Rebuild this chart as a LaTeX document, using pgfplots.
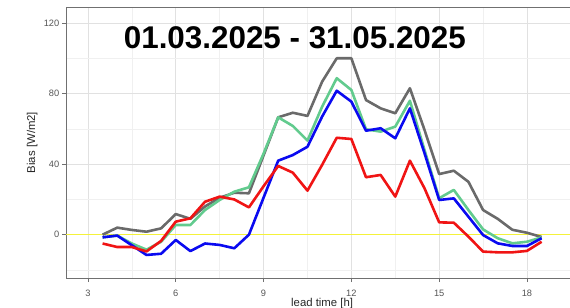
\documentclass[border=0pt]{standalone}
\usepackage{fontspec}
\setmainfont{Liberation Sans}
\usepackage{pgfplots}
\usepackage{pgfplotstable}
\pgfplotsset{compat=1.18}
\definecolor{cgray}{HTML}{6A6A6A}
\definecolor{cgreen}{HTML}{62CB8E}
\definecolor{cblue}{HTML}{0A0AF0}
\definecolor{cred}{HTML}{F01414}
\definecolor{cyel}{HTML}{F4F23A}
\definecolor{gridmaj}{HTML}{E1E1E1}
\definecolor{gridmin}{HTML}{F0F0F0}
\definecolor{axc}{HTML}{707070}
\definecolor{tlc}{HTML}{555555}
\pgfplotstableread{
t gray green blue red
3.5 0 -1.5 -1.5 -5
4 4 -0.5 -0.5 -7
4.5 2.7 -5 -6 -7
5 1.7 -8.5 -11.5 -9.5
5.5 3.6 -4 -10.8 -3.5
6 11.7 5.5 -3 7.4
6.5 9 5.5 -9.3 9.3
7 16 14 -5 18.7
7.5 21 19.7 -5.8 21.6
8 23.8 24.4 -7.7 20
8.5 23.5 26.9 0 15.5
9 45 46 21 27.5
9.5 66.6 66.6 42 39
10 69.2 61.7 45.2 35.2
10.5 67.4 53.4 49.9 25
11 86.8 72.6 67 39.6
11.5 100.1 88.8 81.7 55
12 100.1 82.1 75.5 54.3
12.5 76.4 59.8 59 32.6
13 71.7 58.5 60.4 33.9
13.5 68.9 61.3 54.7 21.6
14 83.1 76 71.7 42
14.5 59.4 48 46.2 26.3
15 34.4 20.7 19.7 7
15.5 36.3 25.4 20.6 6.8
16 30 14 10.2 -1.1
16.5 14 3 -0.2 -9.6
17 9 -2 -4.9 -10
17.5 2.8 -4.9 -6.4 -10
18 1.1 -4 -6.4 -9.2
18.5 -1.3 -1.5 -2 -4
}\data
\begin{document}
\begin{tikzpicture}
\begin{axis}[
  at={(0,0)}, anchor=south west,
  scale only axis, width=512.2bp, height=271bp,
  xmin=2.25, xmax=19.75, ymin=-24.57, ymax=129.2,
  xtick={3,6,...,18}, ytick={0,40,80,120},
  minor xtick={4.5,7.5,...,18}, minor ytick={-20,20,60,100},
  grid=both,
  major grid style={color=gridmaj, line width=0.8bp},
  minor grid style={color=gridmin, line width=0.6bp},
  tick align=outside, tick pos=left,
  major tick length=4bp, minor tick length=0pt,
  every tick/.style={color=axc, line width=0.7bp},
  axis line style={color=axc, line width=0.9bp},
  /pgf/number format/assume math mode=true,
  ticklabel style={font=\fontsize{9.3}{10}\selectfont, text=tlc},
  xticklabel style={anchor=base, yshift=-14.5bp},
  yticklabel style={anchor=east, inner sep=0pt, xshift=-2.5bp},
  xlabel={lead time [h]}, ylabel={Bias [W/m2]},
  xlabel style={at={(axis description cs:0.5,-0.1052)}, anchor=base, font=\fontsize{11.4}{13}\selectfont, text=black!85},
  ylabel style={at={(axis description cs:-0.0605,0.5)}, anchor=base, font=\fontsize{11.4}{13}\selectfont, text=black!85},
]
\addplot[cyel, line width=1.3bp] coordinates {(2.25,0) (19.75,0)};
\addplot[cgray, line width=2.6bp, line join=round] table[x=t, y=gray] {\data};
\addplot[cgreen, line width=2.6bp, line join=round] table[x=t, y=green] {\data};
\addplot[cblue, line width=2.6bp, line join=round] table[x=t, y=blue] {\data};
\addplot[cred, line width=2.6bp, line join=round] table[x=t, y=red] {\data};
\node[anchor=base, font=\bfseries\fontsize{31.5}{36}\selectfont] at (axis cs:10.07,105.8) {01.03.2025 - 31.05.2025};
\end{axis}
\pgfresetboundingbox
\path[use as bounding box] (-66bp,-30bp) rectangle (504bp,278bp);
\end{tikzpicture}
\end{document}
